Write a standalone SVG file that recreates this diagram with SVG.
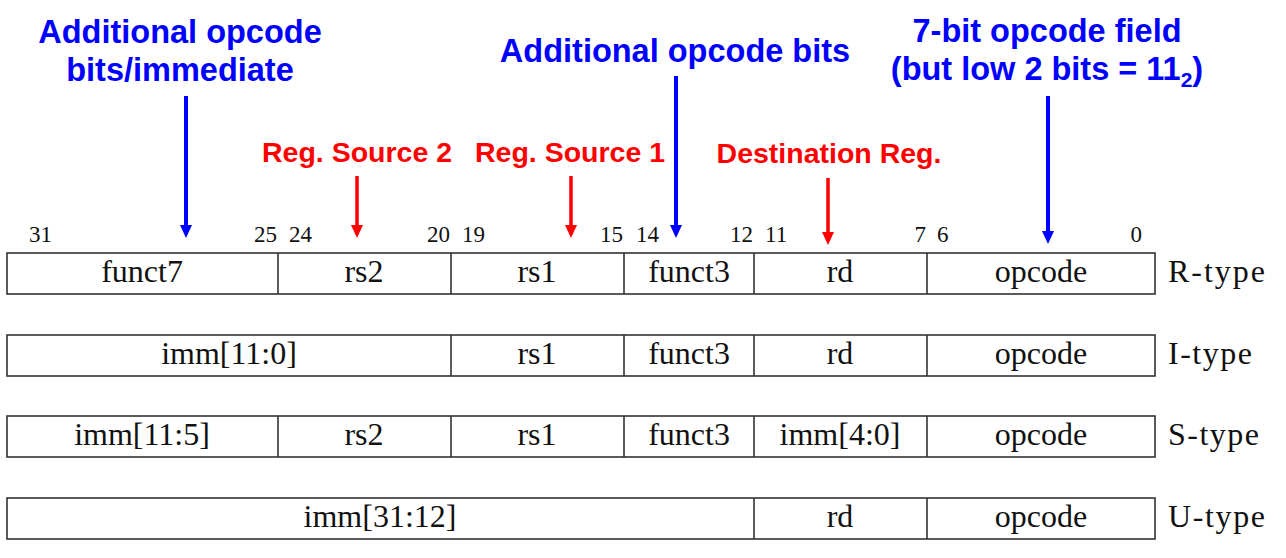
<svg xmlns="http://www.w3.org/2000/svg" width="1286" height="558" viewBox="0 0 1286 558">
<style>
.box{fill:#fff;stroke:#333;stroke-width:1.6}
.div{stroke:#333;stroke-width:1.6}
.f{font-family:"Liberation Serif",serif;font-size:32px;fill:#111;text-anchor:middle}
.t{font-family:"Liberation Serif",serif;font-size:32px;fill:#111}
.n{font-family:"Liberation Serif",serif;font-size:23px;fill:#111}
.hb{font-family:"Liberation Sans",Arial,sans-serif;font-weight:bold;font-size:32.5px;fill:#0000ff;text-anchor:middle}
.hr{font-family:"Liberation Sans",Arial,sans-serif;font-weight:bold;font-size:28.5px;fill:#ff0000;text-anchor:middle}
.ab{stroke:#0000ff;stroke-width:4;fill:none}
.ar{stroke:#ff0000;stroke-width:3.5;fill:none}
</style>
<rect width="1286" height="558" fill="#fff"/>

<g id="headings">
<text class="hb" x="180" y="43">Additional opcode</text>
<text class="hb" x="180" y="81">bits/immediate</text>
<text class="hb" x="675" y="62">Additional opcode bits</text>
<text class="hb" x="1047" y="42">7-bit opcode field</text>
<text class="hb" x="1047" y="80">(but low 2 bits = 11<tspan font-size="21px" dy="7">2</tspan><tspan dy="-7">)</tspan></text>
<text class="hr" x="357" y="162">Reg. Source 2</text>
<text class="hr" x="570" y="162">Reg. Source 1</text>
<text class="hr" x="829" y="163">Destination Reg.</text>
</g>

<g id="connectors">
<line class="ab" x1="186" y1="96" x2="186" y2="226"/>
<path d="M180,225 L192,225 L186,238 Z" fill="#0000ff"/>
<line class="ar" x1="357" y1="176" x2="357" y2="226"/>
<path d="M351,225 L363,225 L357,238 Z" fill="#ff0000"/>
<line class="ar" x1="571" y1="176" x2="571" y2="226"/>
<path d="M565,225 L577,225 L571,238 Z" fill="#ff0000"/>
<line class="ab" x1="676" y1="76" x2="676" y2="226"/>
<path d="M670,225 L682,225 L676,238 Z" fill="#0000ff"/>
<line class="ar" x1="828" y1="178" x2="828" y2="233"/>
<path d="M822,232 L834,232 L828,245 Z" fill="#ff0000"/>
<line class="ab" x1="1048" y1="96" x2="1048" y2="232"/>
<path d="M1042,231 L1054,231 L1048,244 Z" fill="#0000ff"/>
</g>

<g id="bits">
<text class="n" x="29" y="242">31</text>
<text class="n" x="277" y="242" text-anchor="end">25</text>
<text class="n" x="289" y="242">24</text>
<text class="n" x="450" y="242" text-anchor="end">20</text>
<text class="n" x="462" y="242">19</text>
<text class="n" x="623" y="242" text-anchor="end">15</text>
<text class="n" x="636" y="242">14</text>
<text class="n" x="753" y="242" text-anchor="end">12</text>
<text class="n" x="765" y="242">11</text>
<text class="n" x="926" y="242" text-anchor="end">7</text>
<text class="n" x="937" y="242">6</text>
<text class="n" x="1142" y="242" text-anchor="end">0</text>
</g>

<g id="r-type">
<rect class="box" x="7" y="253" width="1148" height="41"/>
<line class="div" x1="278" y1="253" x2="278" y2="294"/>
<line class="div" x1="451" y1="253" x2="451" y2="294"/>
<line class="div" x1="624" y1="253" x2="624" y2="294"/>
<line class="div" x1="754" y1="253" x2="754" y2="294"/>
<line class="div" x1="927" y1="253" x2="927" y2="294"/>
<text class="f" x="142" y="282">funct7</text>
<text class="f" x="364" y="282">rs2</text>
<text class="f" x="537" y="282">rs1</text>
<text class="f" x="689" y="282">funct3</text>
<text class="f" x="840" y="282">rd</text>
<text class="f" x="1041" y="282">opcode</text>
<text class="t" x="1168" y="282" textLength="97">R-type</text>
</g>

<g id="i-type">
<rect class="box" x="7" y="335" width="1148" height="41"/>
<line class="div" x1="451" y1="335" x2="451" y2="376"/>
<line class="div" x1="624" y1="335" x2="624" y2="376"/>
<line class="div" x1="754" y1="335" x2="754" y2="376"/>
<line class="div" x1="927" y1="335" x2="927" y2="376"/>
<text class="f" x="229" y="364">imm[11:0]</text>
<text class="f" x="537" y="364">rs1</text>
<text class="f" x="689" y="364">funct3</text>
<text class="f" x="840" y="364">rd</text>
<text class="f" x="1041" y="364">opcode</text>
<text class="t" x="1168" y="364" textLength="84">I-type</text>
</g>

<g id="s-type">
<rect class="box" x="7" y="416" width="1148" height="41"/>
<line class="div" x1="278" y1="416" x2="278" y2="457"/>
<line class="div" x1="451" y1="416" x2="451" y2="457"/>
<line class="div" x1="624" y1="416" x2="624" y2="457"/>
<line class="div" x1="754" y1="416" x2="754" y2="457"/>
<line class="div" x1="927" y1="416" x2="927" y2="457"/>
<text class="f" x="142" y="445">imm[11:5]</text>
<text class="f" x="364" y="445">rs2</text>
<text class="f" x="537" y="445">rs1</text>
<text class="f" x="689" y="445">funct3</text>
<text class="f" x="840" y="445">imm[4:0]</text>
<text class="f" x="1041" y="445">opcode</text>
<text class="t" x="1168" y="445" textLength="91">S-type</text>
</g>

<g id="u-type">
<rect class="box" x="7" y="498" width="1148" height="41"/>
<line class="div" x1="754" y1="498" x2="754" y2="539"/>
<line class="div" x1="927" y1="498" x2="927" y2="539"/>
<text class="f" x="380" y="527">imm[31:12]</text>
<text class="f" x="840" y="527">rd</text>
<text class="f" x="1041" y="527">opcode</text>
<text class="t" x="1168" y="527" textLength="97">U-type</text>
</g>
</svg>
